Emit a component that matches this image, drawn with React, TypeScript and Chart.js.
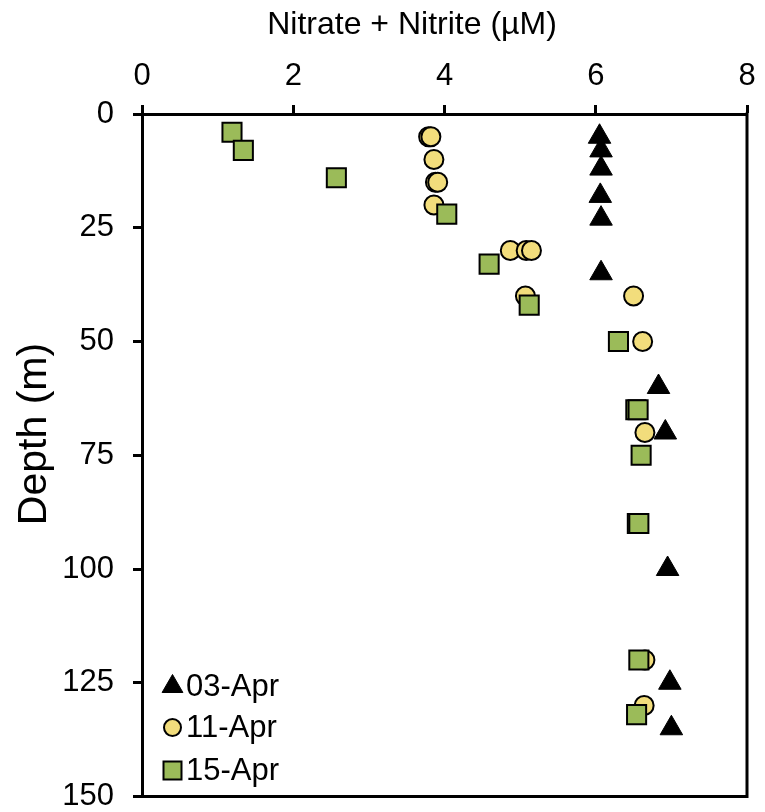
import React, { useEffect, useRef } from "react";
import { Chart, registerables } from "chart.js";

Chart.register(...registerables);

const seriesLabels = ["03-Apr", "11-Apr", "15-Apr"];

const nitrate03 = [6.05, 6.07, 6.07, 6.06, 6.07, 6.07, 6.83, 6.92, 6.95, 6.98, 7.0];
const depth03 = [5, 8, 12, 18, 23, 35, 60, 70, 100, 125, 135];

const nitrate11 = [3.79, 3.82, 3.86, 3.88, 3.91, 3.86, 4.87, 5.08, 5.15, 5.07, 6.5, 6.62, 6.65, 6.65, 6.64];
const depth11 = [5, 5, 10, 15, 15, 20, 30, 30, 30, 40, 40, 50, 70, 120, 130];

const nitrate15 = [1.19, 1.34, 2.57, 4.03, 4.59, 5.12, 6.3, 6.53, 6.56, 6.6, 6.55, 6.57, 6.57, 6.54];
const depth15 = [4, 8, 14, 22, 33, 42, 50, 65, 65, 75, 90, 90, 120, 132];

const xTitle = "Nitrate + Nitrite (\u00b5M)";
const yTitle = "Depth (m)";

const FONT = "'Liberation Sans', Arial, sans-serif";
const YELLOW = "#F2DD7C";
const GREEN = "#9BBB59";

const toPts = (xs: number[], ys: number[]) => xs.map((x, i) => ({ x, y: ys[i] }));

const decorPlugin = {
  id: "decor",
  afterDraw(chart: any) {
    const { ctx, chartArea } = chart;
    const { left, right, top, bottom } = chartArea;
    ctx.save();
    ctx.strokeStyle = "#000";
    ctx.lineWidth = 3;
    ctx.beginPath();
    ctx.moveTo(right, top - 1.5);
    ctx.lineTo(right, bottom + 1.5);
    ctx.moveTo(left - 1.5, bottom);
    ctx.lineTo(right + 1.5, bottom);
    ctx.stroke();

    ctx.fillStyle = "#000";
    ctx.font = `32px ${FONT}`;
    ctx.textAlign = "center";
    ctx.textBaseline = "alphabetic";
    ctx.fillText(xTitle, 412, 34);

    ctx.save();
    ctx.translate(46, 434);
    ctx.rotate(-Math.PI / 2);
    ctx.font = `41px ${FONT}`;
    ctx.textAlign = "center";
    ctx.textBaseline = "alphabetic";
    ctx.fillText(yTitle, 0, 0);
    ctx.restore();

    const lx = 172.5;
    const rows = [686.5, 727.5, 770.5];
    ctx.font = `31px ${FONT}`;
    ctx.textAlign = "left";
    ctx.textBaseline = "middle";
    rows.forEach((ly, i) => {
      ctx.beginPath();
      if (i === 0) {
        const r = 12;
        ctx.moveTo(lx, ly - r);
        ctx.lineTo(lx + r * 0.866, ly + r * 0.5);
        ctx.lineTo(lx - r * 0.866, ly + r * 0.5);
        ctx.closePath();
        ctx.fillStyle = "#000";
        ctx.fill();
        ctx.lineWidth = 1;
        ctx.strokeStyle = "#000";
        ctx.stroke();
      } else if (i === 1) {
        ctx.arc(lx, ly, 8.5, 0, Math.PI * 2);
        ctx.fillStyle = YELLOW;
        ctx.fill();
        ctx.lineWidth = 2;
        ctx.strokeStyle = "#000";
        ctx.stroke();
      } else {
        ctx.rect(lx - 9, ly - 9, 18, 18);
        ctx.fillStyle = GREEN;
        ctx.fill();
        ctx.lineWidth = 2;
        ctx.strokeStyle = "#000";
        ctx.stroke();
      }
      ctx.fillStyle = "#000";
      ctx.fillText(seriesLabels[i], 186, ly + 1);
    });
    ctx.restore();
  },
};

export default function App() {
  const ref = useRef<HTMLCanvasElement | null>(null);

  useEffect(() => {
    if (!ref.current) return;
    const chart = new Chart(ref.current, {
      type: "scatter",
      data: {
        datasets: [
          {
            label: seriesLabels[0],
            data: toPts(nitrate03, depth03),
            pointStyle: "triangle",
            pointRadius: 13,
            backgroundColor: "#000",
            borderColor: "#000",
            borderWidth: 1,
            order: 3,
          },
          {
            label: seriesLabels[1],
            data: toPts(nitrate11, depth11),
            pointStyle: "circle",
            pointRadius: 9.5,
            backgroundColor: YELLOW,
            borderColor: "#000",
            borderWidth: 2,
            order: 2,
          },
          {
            label: seriesLabels[2],
            data: toPts(nitrate15, depth15),
            pointStyle: "rect",
            pointRadius: 13.5,
            backgroundColor: GREEN,
            borderColor: "#000",
            borderWidth: 2,
            order: 1,
          },
        ],
      },
      options: {
        responsive: false,
        animation: false,
        layout: { padding: { left: 0, top: 0, right: 18, bottom: 15 } },
        plugins: {
          legend: { display: false },
          tooltip: { enabled: false },
          title: { display: false },
        },
        scales: {
          x: {
            type: "linear",
            position: "top",
            min: 0,
            max: 8,
            ticks: {
              stepSize: 2,
              color: "#000",
              font: { family: FONT, size: 31 },
              padding: 10,
            },
            grid: {
              drawOnChartArea: false,
              drawTicks: true,
              tickLength: 9,
              tickWidth: 3,
              tickColor: "#000",
            },
            border: { display: true, color: "#000", width: 3 },
            afterFit: (scale: any) => {
              scale.height = 114;
              scale.paddingLeft = 0;
              scale.paddingRight = 0;
            },
          },
          y: {
            type: "linear",
            reverse: true,
            min: 0,
            max: 150,
            ticks: {
              stepSize: 25,
              color: "#000",
              font: { family: FONT, size: 31 },
              padding: 19,
            },
            grid: {
              drawOnChartArea: false,
              drawTicks: true,
              tickLength: 9,
              tickWidth: 3,
              tickColor: "#000",
            },
            border: { display: true, color: "#000", width: 3 },
            afterFit: (scale: any) => {
              scale.width = 142;
              scale.paddingTop = 0;
              scale.paddingBottom = 0;
            },
          },
        },
      },
      plugins: [decorPlugin],
    });
    return () => chart.destroy();
  }, []);

  return (
    <div style={{ position: "absolute", left: 0, top: 0, width: 765, height: 812, background: "#fff" }}>
      <canvas ref={ref} width={765} height={812} style={{ display: "block" }} />
    </div>
  );
}
